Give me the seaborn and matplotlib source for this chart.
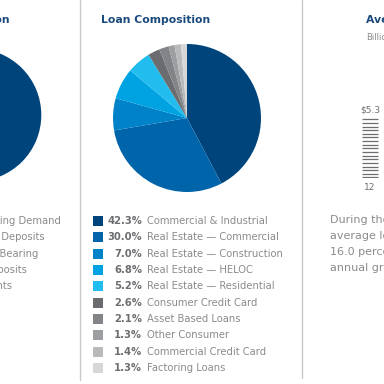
import numpy as np
import matplotlib
matplotlib.use("Agg")
import matplotlib.pyplot as plt
import seaborn as sns

# Données
loan_labels = ["Commercial & Industrial", "Real Estate \u2014 Commercial",
               "Real Estate \u2014 Construction", "Real Estate \u2014 HELOC",
               "Real Estate \u2014 Residential", "Consumer Credit Card",
               "Asset Based Loans", "Other Consumer", "Commercial Credit Card",
               "Factoring Loans"]
loan_pct = [42.3, 30.0, 7.0, 6.8, 5.2, 2.6, 2.1, 1.3, 1.4, 1.3]
loan_colors = ["#00447c", "#0064aa", "#0082c8", "#00a3e2", "#22bdee",
               "#6b6c6f", "#838487", "#9d9ea1", "#b9babc", "#d6d7d9"]

deposit_labels = ["Noninterest-Bearing Demand", "Savings Deposits",
                  "Interest Bearing", "Time Deposits", "Other Accounts"]
deposit_pct = [100.0]

loan_years = ["12"]
loan_avg = [5.3]

TITLE = "#1a4a7c"
GRAY = "#8a8b8d"
DARK_GRAY = "#6d6e71"
LINE = "#c9c9c9"

sns.set_theme(style="white")
plt.rcParams["font.family"] = ["DejaVu Sans"]

fig = plt.figure(figsize=(3.84, 3.84), dpi=100)
fig.patch.set_facecolor("white")

# calque en pixels pour textes / séparateurs
ov = fig.add_axes([0, 0, 1, 1])
ov.set_xlim(0, 384)
ov.set_ylim(384, 0)
ov.axis("off")

def px_axes(cx, cy, r):
    return fig.add_axes([(cx - r) / 384, (384 - cy - r) / 384, 2 * r / 384, 2 * r / 384])

# --- panneau gauche (coupé)
axl = px_axes(-25, 115, 67)
axl.pie(deposit_pct, colors=["#00447c"], startangle=90, counterclock=False)
axl.set_xlim(-1, 1); axl.set_ylim(-1, 1); axl.axis("off")
ov.text(10, 20, "Deposit Composition", ha="right", va="center",
        fontsize=7.8, fontweight="bold", color=TITLE)
ends = [61, 45, 38, 27, 12]
for i, lab in enumerate(deposit_labels):
    ov.text(ends[i], 221 + i * 16.35, lab, ha="right", va="center",
            fontsize=7.2, color=GRAY)

# séparateurs
ov.plot([80, 80], [0, 380], color=LINE, lw=1)
ov.plot([302, 302], [0, 378], color=LINE, lw=1)

# --- panneau central : composition des prêts
ov.text(101, 20, "Loan Composition", ha="left", va="center",
        fontsize=7.8, fontweight="bold", color=TITLE)
axp = px_axes(187, 118, 74)
axp.pie(loan_pct, colors=loan_colors, startangle=90, counterclock=False,
        wedgeprops=dict(linewidth=0))
axp.set_xlim(-1, 1); axp.set_ylim(-1, 1); axp.axis("off")

for i, (lab, pct, col) in enumerate(zip(loan_labels, loan_pct, loan_colors)):
    y = 221 + i * 16.35
    ov.scatter([98], [y], marker="s", s=60, color=col, linewidths=0)
    ov.text(142, y, f"{pct:.1f}%", ha="right", va="center",
            fontsize=7.2, fontweight="semibold", color=DARK_GRAY)
    ov.text(147, y, lab, ha="left", va="center", fontsize=7.2, color=GRAY)

# --- panneau droit (coupé)
ov.text(366, 20, "Average Loans", ha="left", va="center",
        fontsize=7.8, fontweight="bold", color=TITLE)
ov.text(366, 37, "Billions", ha="left", va="center", fontsize=6, color=GRAY)

axb = fig.add_axes([354 / 384, (384 - 178) / 384, 32 / 384, 60 / 384])
axb.set_xlim(-0.5, 0.5)
axb.set_ylim(0, loan_avg[0])
axb.axis("off")
for yr, v in zip(loan_years, loan_avg):
    axb.hlines(np.arange(0.05, v + 0.01, v / 16.5), -0.25, 0.25,
               color=DARK_GRAY, lw=0.9)
    ov.text(370, 110, f"${v}", ha="center", va="center", fontsize=6.5, color=DARK_GRAY)
    ov.text(370, 187, yr, ha="center", va="center", fontsize=6.5, color=DARK_GRAY)

body = ["During the year,", "average loans grew", "16.0 percent, a compound",
        "annual growth rate"]
for i, line in enumerate(body):
    ov.text(330, 220 + i * 16, line, ha="left", va="center", fontsize=8, color=GRAY)

fig.savefig("out.png", dpi=100)
